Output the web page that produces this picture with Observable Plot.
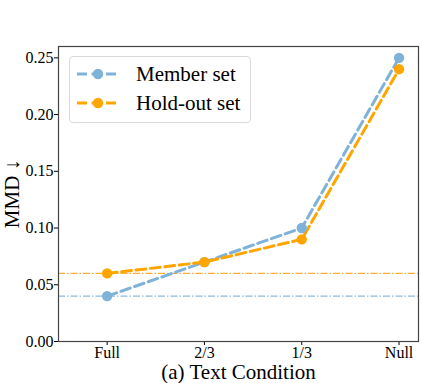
<!DOCTYPE html>
<html>
<head>
<meta charset="utf-8">
<script src="https://cdn.jsdelivr.net/npm/d3@7"></script>
<script src="https://cdn.jsdelivr.net/npm/@observablehq/plot@0.6"></script>
<style>
  body { margin: 0; background: #fff; }
  #wrap { position: relative; width: 423px; height: 383px; font-family: "Liberation Serif", "Times New Roman", serif; }
  #wrap svg text { font-family: "Liberation Serif", "Times New Roman", serif; }
  #legend { position: absolute; left: 69px; top: 56px; width: 182px; height: 67px; border: 1px solid #d9d9d9; border-radius: 4px; background: rgba(255,255,255,0.85); box-sizing: border-box; }
  .row { position: absolute; left: 7px; height: 24px; display: flex; align-items: center; font-size: 21px; color: #000; }
  .row svg { margin-right: 17px; }
</style>
</head>
<body>
<div id="wrap"></div>
<script>
const categories = ["Full", "2/3", "1/3", "Null"];
const memberValues = [0.04, 0.07, 0.10, 0.25];
const holdoutValues = [0.06, 0.07, 0.09, 0.24];
const memberBaseline = 0.04;
const holdoutBaseline = 0.06;
const yTicks = [0, 0.05, 0.10, 0.15, 0.20, 0.25];
const seriesNames = ["Member set", "Hold-out set"];
const colors = { "Member set": "#7fb2d9", "Hold-out set": "#ffa500" };

const rows = [];
categories.forEach((c, i) => {
  rows.push({ series: "Member set", i, value: memberValues[i] });
  rows.push({ series: "Hold-out set", i, value: holdoutValues[i] });
});
const member = rows.filter(d => d.series === "Member set");
const holdout = rows.filter(d => d.series === "Hold-out set");

const serif = "Liberation Serif, Times New Roman, serif";

const chart = Plot.plot({
  width: 423,
  height: 383,
  marginLeft: 58,
  marginRight: 5,
  marginTop: 46,
  marginBottom: 42,
  style: { fontFamily: serif, fontSize: "16px", color: "#000", background: "#fff" },
  x: { type: "linear", domain: [-0.5, 3.2] },
  y: { domain: [0, 0.26] },
  marks: [
    Plot.ruleY([holdoutBaseline], { stroke: "#ffab33", strokeWidth: 1.3, strokeDasharray: "7,2,1.5,2" }),
    Plot.ruleY([memberBaseline], { stroke: "#8cb9dc", strokeWidth: 1.3, strokeDasharray: "7,2,1.5,2" }),
    Plot.line(member, { x: "i", y: "value", stroke: colors["Member set"], strokeWidth: 3, strokeDasharray: "10,4.5" }),
    Plot.line(holdout, { x: "i", y: "value", stroke: colors["Hold-out set"], strokeWidth: 3, strokeDasharray: "10,4.5" }),
    Plot.dot(member, { x: "i", y: "value", r: 5.2, fill: colors["Member set"], stroke: "none" }),
    Plot.dot(holdout, { x: "i", y: "value", r: 5.2, fill: colors["Hold-out set"], stroke: "none" }),
    Plot.axisX({ ticks: categories.map((c, i) => i), tickFormat: i => categories[i], tickSize: 4, tickPadding: 1, fontSize: 16, fontFamily: serif, label: "(a) Text Condition", labelAnchor: "center", labelOffset: 37, labelArrow: "none" }),
    Plot.axisY({ ticks: yTicks, tickFormat: d => d.toFixed(2), tickSize: 4, tickPadding: 1, fontSize: 16, fontFamily: serif, label: "MMD ↓", labelAnchor: "center", labelOffset: 54, labelArrow: "none" }),
    Plot.frame({ stroke: "#444", strokeWidth: 1.2 })
  ]
});

d3.select(chart).selectAll("text").style("font-family", serif);
d3.select(chart).selectAll("g[aria-label='x-axis label'] text, g[aria-label='y-axis label'] text").style("font-size", "21px");

const wrap = document.getElementById("wrap");
wrap.appendChild(chart);

const legend = document.createElement("div");
legend.id = "legend";
seriesNames.forEach((name, k) => {
  const row = document.createElement("div");
  row.className = "row";
  row.style.top = (5 + k * 29) + "px";
  const c = colors[name];
  row.innerHTML = `<svg width="42" height="12"><line x1="0" y1="6" x2="42" y2="6" stroke="${c}" stroke-width="3" stroke-dasharray="10,4.5"/><circle cx="21" cy="6" r="5.2" fill="${c}"/></svg><span>${name}</span>`;
  legend.appendChild(row);
});
wrap.appendChild(legend);
</script>
</body>
</html>
